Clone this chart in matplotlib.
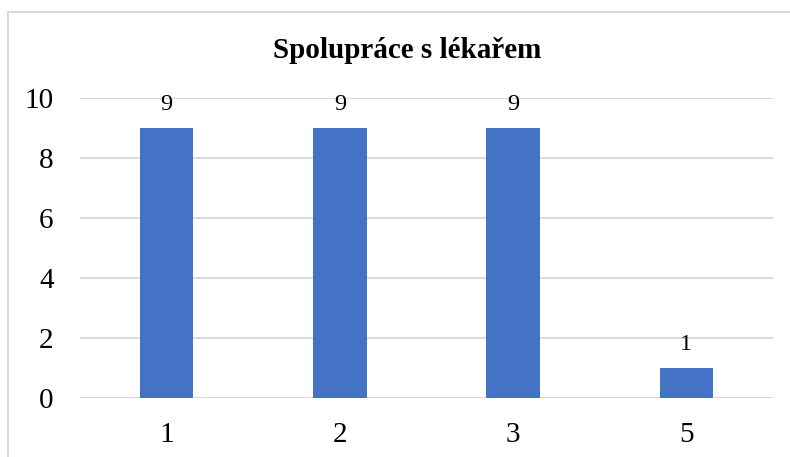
import matplotlib
matplotlib.use("Agg")
import matplotlib.pyplot as plt
from matplotlib.lines import Line2D

categories = ["1", "2", "3", "5"]
values = [9, 9, 9, 1]
title = "Spolupráce s lékařem"

plt.rcParams['font.family'] = ['Liberation Serif', 'DejaVu Serif']

W, H = 790, 457
fig = plt.figure(figsize=(W / 100, H / 100), dpi=100)
ax = fig.add_axes([80 / W, 1 - 398 / H, (773 - 80) / W, (398 - 98) / H])

x = range(len(categories))
bars = ax.bar(x, values, width=0.31, color="#4472C4", zorder=3)
ax.set_xlim(-0.5, len(categories) - 0.5)
ax.set_ylim(0, 10)
ax.set_yticks(range(0, 11, 2))
ax.set_xticks(list(x))
ax.set_xticklabels(categories)
ax.grid(axis="y", color="#d9d9d9", linewidth=1.4, zorder=0)
for s in ax.spines.values():
    s.set_visible(False)
ax.tick_params(axis="both", length=0, labelsize=21)
ax.tick_params(axis="y", pad=19)
ax.tick_params(axis="x", pad=17)

for b, v in zip(bars, values):
    ax.annotate(str(v), (b.get_x() + b.get_width() / 2, v), xytext=(0, 9),
                textcoords="offset points", ha="center", va="bottom", fontsize=17.5)

fig.text(407 / W, 1 - 50 / H, title, ha="center", va="center", fontsize=21, fontweight="bold")

# chart border (left and top visible)
fig.add_artist(Line2D([8 / W, 8 / W], [0, 1 - 12 / H], transform=fig.transFigure, color="#d9d9d9", linewidth=1.5))
fig.add_artist(Line2D([8 / W, 1], [1 - 12 / H, 1 - 12 / H], transform=fig.transFigure, color="#d9d9d9", linewidth=1.5))

fig.savefig("out.png", dpi=100)
